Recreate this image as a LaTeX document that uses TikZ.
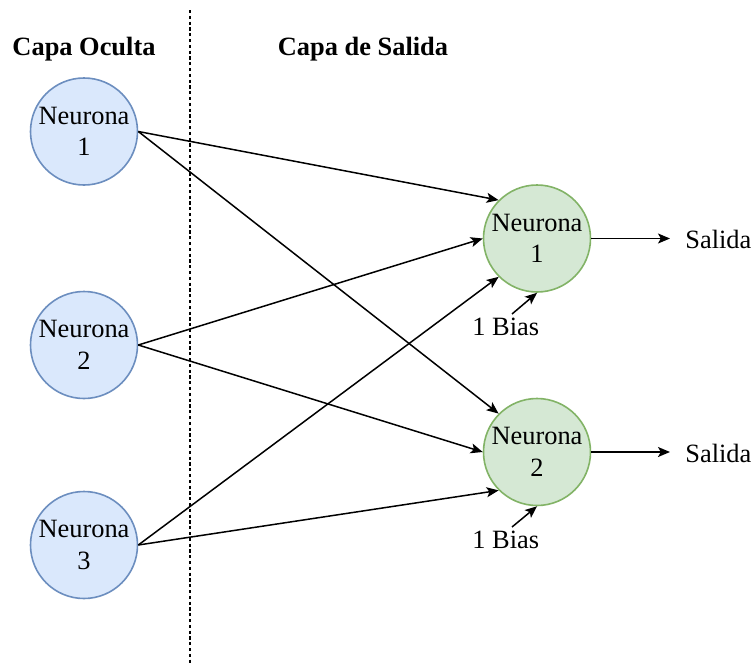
\documentclass[tikz,border=0pt]{standalone}
\usepackage{fontspec}
\setmainfont{Liberation Serif}
\usetikzlibrary{arrows.meta}
\definecolor{hidFill}{HTML}{DAE8FC}
\definecolor{hidLine}{HTML}{6C8EBF}
\definecolor{outFill}{HTML}{D5E8D4}
\definecolor{outLine}{HTML}{82B366}
\begin{document}
\begin{tikzpicture}[x=0.5pt,y=-0.5pt,
  txt/.style={font=\fontsize{13.2}{15.8}\selectfont, inner sep=0pt},
  neuron/.style={circle, line width=0.8pt, minimum size=53.5pt, inner sep=0pt,
    align=center, font=\fontsize{13.2}{15.8}\selectfont},
  hidden/.style={neuron, draw=hidLine, fill=hidFill},
  output/.style={neuron, draw=outLine, fill=outFill},
  header/.style={font=\fontsize{13.2}{15.8}\selectfont\bfseries, inner sep=0pt, anchor=base},
  link/.style={line width=0.75pt, -{Stealth[length=6pt,width=5pt,inset=1.4pt]}}]
  \useasboundingbox (0,0) rectangle (754,664);

  % layer separator
  \draw[line width=0.6pt, dash pattern=on 1.6pt off 1.3pt] (190,10) -- (190,664);

  % headers
  \node[header] (hHead) at (84,55) {Capa Oculta};
  \node[header] (oHead) at (363,55) {Capa de Salida};

  % hidden layer
  \node[hidden] (h1) at (84,131.5) {Neurona\\1};
  \node[hidden] (h2) at (84,345) {Neurona\\2};
  \node[hidden] (h3) at (84,545) {Neurona\\3};

  % output layer
  \node[output] (o1) at (537,238.5) {Neurona\\1};
  \node[output] (o2) at (537,452) {Neurona\\2};

  % weighted connections
  \draw[link] (h1.east) -- (o1.135);
  \draw[link] (h1.east) -- (o2.135);
  \draw[link] (h2.east) -- (o1.west);
  \draw[link] (h2.east) -- (o2.west);
  \draw[link] (h3.east) -- (o1.225);
  \draw[link] (h3.east) -- (o2.225);

  % outputs
  \node[txt, anchor=base west] (s1) at (685,248) {Salida};
  \node[txt, anchor=base west] (s2) at (685,462) {Salida};
  \coordinate (e1) at (670,238.5);
  \coordinate (e2) at (670,452);
  \draw[link] (o1.east) -- (e1);
  \draw[link] (o2.east) -- (e2);

  % biases
  \node[txt, anchor=base west] (b1) at (472,335) {1 Bias};
  \node[txt, anchor=base west] (b2) at (472,548) {1 Bias};
  \coordinate (bs1) at (512,314);
  \coordinate (bs2) at (512,527);
  \draw[link] (bs1) -- (o1.south);
  \draw[link] (bs2) -- (o2.south);
\end{tikzpicture}
\end{document}
